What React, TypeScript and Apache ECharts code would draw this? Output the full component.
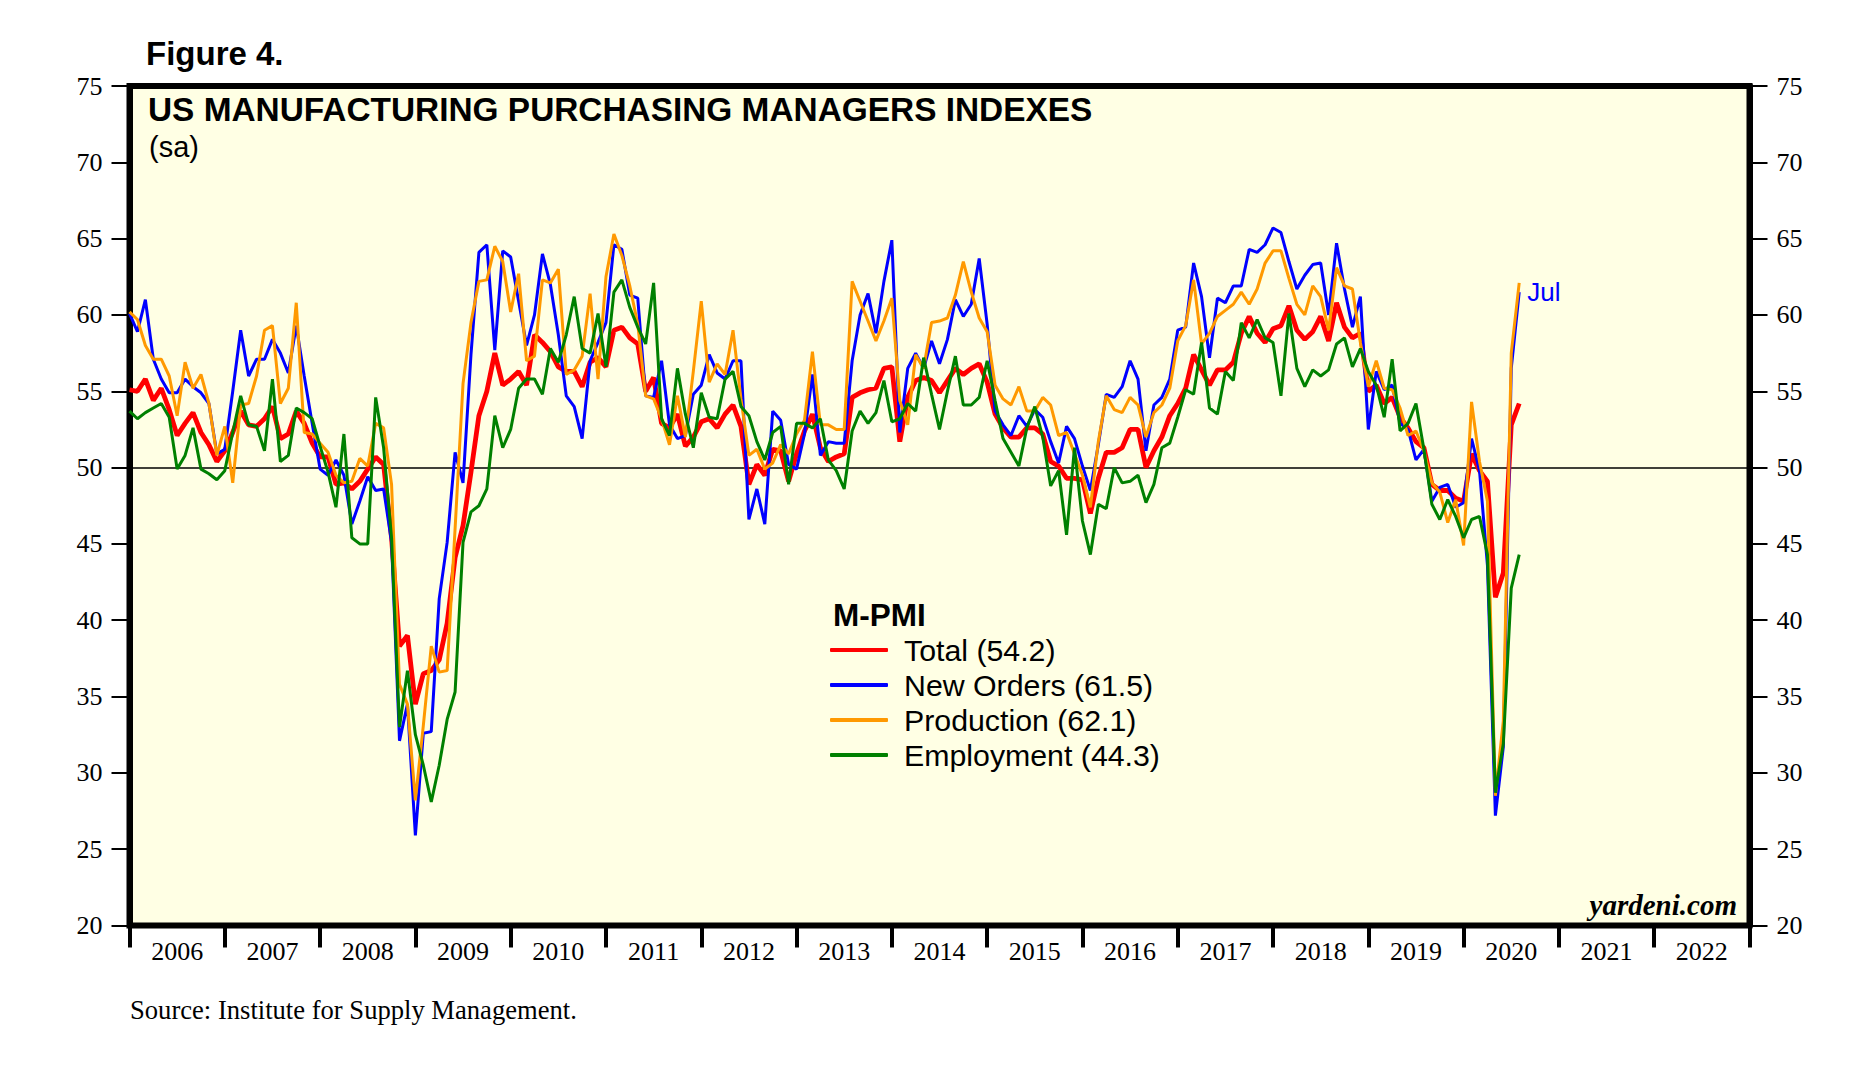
import React, { useEffect, useRef } from 'react';
import * as echarts from 'echarts';

// monthly readings, first point = Dec 2005 (plotted at the 2006 tick), last = Jul 2020
const years = ['2006', '2007', '2008', '2009', '2010', '2011', '2012', '2013', '2014',
  '2015', '2016', '2017', '2018', '2019', '2020', '2021', '2022'];

const total = [
  55.1, 55.0, 55.8, 54.4, 55.2, 53.8, 52.1, 52.9, 53.6, 52.3, 51.5, 50.4,
  51.1, 52.3, 53.7, 52.8, 52.7, 53.2, 54.0, 51.9, 52.2, 53.7, 52.9, 51.6,
  50.7, 50.7, 48.9, 49.0, 48.6, 49.1, 49.9, 50.7, 50.2, 45.4, 38.3, 39.0,
  34.5, 36.5, 36.7, 37.4, 39.8, 44.1, 46.2, 49.7, 53.4, 55.0, 57.5, 55.4,
  55.8, 56.3, 55.4, 58.7, 58.2, 57.6, 56.6, 56.3, 56.3, 55.3, 56.9, 57.2,
  56.6, 59.0, 59.2, 58.5, 58.1, 55.0, 55.9, 52.9, 52.6, 53.5, 51.4, 52.0,
  53.0, 53.2, 52.6, 53.5, 54.1, 52.7, 48.9, 50.2, 49.5, 51.2, 51.1, 49.1,
  50.9, 52.4, 53.5, 51.3, 50.4, 50.7, 50.9, 54.6, 54.9, 55.1, 55.2, 56.5,
  56.6, 51.7, 54.6, 55.7, 55.9, 55.7, 54.9, 55.7, 56.5, 56.1, 56.5, 56.8,
  55.6, 53.5, 52.6, 52.0, 52.0, 52.6, 52.6, 52.2, 50.4, 50.1, 49.3, 49.3,
  49.2, 47.0, 49.3, 51.0, 51.0, 51.3, 52.5, 52.5, 50.0, 51.1, 52.0, 53.4,
  54.2, 55.2, 57.4, 56.4, 55.4, 56.4, 56.4, 56.9, 58.8, 59.9, 58.8, 58.2,
  59.1, 59.3, 60.6, 59.0, 58.4, 58.9, 59.9, 58.3, 60.8, 59.2, 58.5, 58.8,
  55.0, 55.4, 54.2, 54.6, 53.3, 52.6, 51.7, 51.3, 48.9, 48.5, 48.5, 48.0,
  47.8, 50.9, 49.8, 49.1, 41.5, 43.1, 52.8, 54.2,
];

const newOrders = [
  60.1, 58.9, 61.0, 57.1, 55.8, 54.9, 54.9, 55.8, 55.3, 54.9, 54.2, 50.9,
  51.2, 55.0, 59.0, 56.0, 57.1, 57.1, 58.4, 57.5, 56.2, 59.3, 56.0, 52.9,
  49.9, 49.5, 50.5, 49.5, 46.3, 47.8, 49.4, 48.5, 48.6, 45.1, 32.1, 34.5,
  25.9, 32.6, 32.7, 41.4, 45.1, 51.0, 49.0, 57.4, 64.1, 64.6, 57.7, 64.2,
  63.8, 60.9, 58.0, 60.0, 64.0, 62.0, 58.7, 54.7, 54.0, 51.9, 57.0, 58.2,
  59.5, 64.6, 64.3, 61.3, 61.1, 54.7, 54.6, 57.0, 52.8, 51.9, 52.1, 54.8,
  55.4, 57.4, 56.2, 55.8, 57.0, 57.0, 46.6, 48.6, 46.3, 53.7, 53.1, 50.2,
  49.9, 52.2, 56.1, 50.8, 51.7, 51.6, 51.6, 57.0, 60.0, 61.4, 58.8, 62.2,
  64.9, 52.3, 56.5, 57.5, 56.5, 58.3, 56.8, 58.4, 61.0, 59.9, 60.7, 63.7,
  59.4, 53.7, 52.8, 52.1, 53.4, 52.7, 53.8, 53.3, 51.7, 50.3, 52.7, 51.9,
  50.1, 48.5, 51.5, 54.8, 54.6, 55.3, 57.0, 55.8, 51.1, 54.1, 54.6, 55.8,
  59.0, 59.2, 63.4, 61.2, 57.2, 61.1, 60.8, 61.9, 61.9, 64.3, 64.1, 64.6,
  65.7, 65.4, 63.5, 61.7, 62.6, 63.3, 63.4, 60.0, 64.7, 61.7, 59.2, 61.2,
  52.5, 56.3, 55.1, 55.4, 52.9, 52.5, 50.5, 51.2, 47.8, 48.7, 48.9, 47.4,
  47.7, 51.9, 49.8, 43.6, 27.2, 31.7, 56.5, 61.5,
];

const production = [
  60.2, 59.7, 58.0, 57.1, 57.1, 56.0, 53.4, 56.9, 55.2, 56.1, 54.2, 50.8,
  52.7, 49.0, 54.1, 54.2, 56.0, 59.0, 59.3, 54.2, 55.2, 60.8, 52.3, 52.2,
  51.6, 51.0, 49.5, 49.0, 49.1, 50.6, 50.1, 52.9, 52.6, 48.9, 35.8, 34.5,
  28.2, 33.1, 38.3, 36.6, 36.7, 46.0, 55.5, 59.5, 62.2, 62.3, 64.5, 63.5,
  60.2, 62.7, 57.0, 57.3, 62.3, 62.1, 63.0, 56.1, 56.4, 57.3, 61.4, 55.8,
  62.5, 65.3, 63.9, 61.9, 59.4, 54.7, 54.5, 53.2, 51.5, 54.7, 52.0, 56.3,
  60.9, 55.6, 56.8, 56.1, 59.0, 54.5, 50.8, 51.2, 49.9, 50.3, 51.5, 50.9,
  52.2, 53.1, 57.6, 52.8, 52.8, 52.5, 52.5, 62.2, 60.9, 59.6, 58.3, 59.6,
  61.1, 54.4, 52.8, 57.4, 56.5, 59.5, 59.6, 59.8, 61.3, 63.5, 61.5, 59.8,
  58.9, 55.4, 54.5, 54.1, 55.3, 53.7, 53.7, 54.6, 54.1, 52.1, 52.3, 50.9,
  49.5, 47.4, 51.7, 54.7, 53.8, 53.6, 54.6, 54.1, 52.0, 53.6, 54.1, 55.2,
  58.3, 59.3, 62.3, 58.1, 58.8, 59.9, 60.3, 60.7, 61.5, 60.7, 61.7, 63.4,
  64.2, 64.2, 62.4, 60.7, 60.0, 61.9, 61.2, 59.0, 63.1, 61.9, 61.7, 58.2,
  55.3, 57.0, 55.2, 55.1, 53.9, 52.1, 52.4, 51.1, 49.0, 48.4, 46.4, 47.9,
  44.9, 54.3, 50.4, 47.8, 28.5, 33.4, 57.5, 62.1,
];

const employment = [
  53.7, 53.2, 53.6, 53.9, 54.2, 53.3, 49.9, 50.8, 52.6, 49.9, 49.6, 49.2,
  49.8, 52.3, 54.7, 52.8, 52.7, 51.1, 55.8, 50.4, 50.8, 53.9, 53.6, 53.2,
  51.4, 49.7, 47.4, 52.2, 45.4, 45.0, 45.0, 54.6, 51.3, 45.4, 33.0, 36.7,
  32.5, 30.5, 28.1, 30.5, 33.5, 35.3, 45.1, 47.1, 47.5, 48.6, 53.4, 51.3,
  52.5, 55.2, 55.8, 55.8, 54.8, 57.8, 56.9, 58.7, 61.2, 57.8, 57.5, 60.1,
  56.6, 61.5, 62.3, 60.5, 59.2, 58.1, 62.1, 53.2, 52.1, 56.5, 53.5, 51.3,
  54.9, 53.3, 53.2, 55.8, 56.3, 54.0, 53.4, 51.7, 50.5, 52.3, 52.7, 48.9,
  52.9, 52.9, 52.6, 53.2, 50.5, 49.8, 48.6, 52.4, 53.7, 52.9, 53.6, 55.7,
  53.0, 53.2, 54.2, 53.7, 57.2, 54.8, 52.5, 55.0, 57.3, 54.1, 54.1, 54.6,
  57.0, 54.4, 51.9, 51.0, 50.1, 52.6, 54.0, 52.0, 48.8, 49.8, 45.6, 51.3,
  46.5, 44.3, 47.6, 47.3, 50.0, 49.0, 49.1, 49.5, 47.7, 48.9, 51.3, 51.6,
  53.3, 55.1, 54.8, 58.2, 53.9, 53.5, 56.3, 55.7, 59.5, 58.5, 59.7, 58.5,
  58.2, 54.7, 60.1, 56.5, 55.3, 56.4, 56.0, 56.4, 58.1, 58.5, 56.6, 57.8,
  56.3, 55.4, 53.3, 57.1, 52.4, 52.9, 54.2, 51.2, 47.6, 46.6, 47.9, 46.8,
  45.4, 46.6, 46.8, 44.3, 28.7, 31.9, 42.1, 44.3,
];

const seriesDefs = [
  { name: 'Total', data: total, color: '#FF0000', width: 4.8 },
  { name: 'New Orders', data: newOrders, color: '#0000FF', width: 3 },
  { name: 'Production', data: production, color: '#FF9900', width: 3 },
  { name: 'Employment', data: employment, color: '#008000', width: 3 },
];

const sans = '"Liberation Sans", Arial, sans-serif';
const serif = '"Liberation Serif", "Times New Roman", serif';

const App: React.FC = () => {
  const chartRef = useRef<HTMLDivElement>(null);

  useEffect(() => {
    if (!chartRef.current) return;
    const chart = echarts.init(chartRef.current, undefined, { renderer: 'svg' });

    const lastValue: Record<string, number> = {};
    seriesDefs.forEach(s => { lastValue[s.name] = s.data[s.data.length - 1]; });

    const yAxisBase = {
      type: 'value',
      min: 20,
      max: 75,
      interval: 5,
      splitLine: { show: false },
      axisLine: { show: true, lineStyle: { color: '#000', width: 6 } },
      axisTick: { show: true, inside: false, length: 18, lineStyle: { color: '#000', width: 2 } },
      axisLabel: { margin: 27, color: '#000', fontFamily: serif, fontSize: 26 },
    };

    const option = {
      animation: false,
      backgroundColor: '#ffffff',
      grid: {
        left: 129.5,
        right: 114.5,
        top: 86,
        bottom: 146.5,
        show: true,
        backgroundColor: '#FFFFE4',
        borderColor: '#000',
        borderWidth: 6,
      },
      xAxis: [
        {
          type: 'value',
          min: 0,
          max: 204,
          show: false,
        },
        {
          type: 'category',
          data: years,
          position: 'bottom',
          boundaryGap: true,
          axisLine: { show: false },
          axisTick: { show: true, interval: 0, length: 22, lineStyle: { color: '#000', width: 4 } },
          axisLabel: { interval: 0, margin: 13, color: '#000', fontFamily: serif, fontSize: 26 },
        },
      ],
      yAxis: [
        { ...yAxisBase, position: 'left' },
        { ...yAxisBase, position: 'right' },
      ],
      legend: {
        orient: 'vertical',
        left: 825,
        top: 630,
        icon: 'roundRect',
        itemWidth: 58,
        itemHeight: 4,
        itemGap: 5,
        selectedMode: false,
        data: seriesDefs.map(s => s.name),
        formatter: (name: string) => `${name} (${lastValue[name].toFixed(1)})`,
        textStyle: {
          color: '#000',
          fontFamily: sans,
          fontSize: 30.3,
          lineHeight: 29,
          padding: [0, 0, 0, 11],
        },
      },
      series: seriesDefs.map((s, idx) => ({
        name: s.name,
        type: 'line',
        xAxisIndex: 0,
        yAxisIndex: 0,
        symbol: 'none',
        data: s.data.map((v, i) => [i, v]),
        lineStyle: { color: s.color, width: s.width },
        itemStyle: { color: s.color },
        z: 3 + idx,
        endLabel: s.name === 'New Orders'
          ? { show: true, formatter: 'Jul', color: '#0000FF', fontFamily: sans, fontSize: 26, distance: 8 }
          : { show: false },
        markLine: idx === 0
          ? {
              silent: true,
              symbol: ['none', 'none'],
              label: { show: false },
              lineStyle: { color: '#000', width: 1.5, type: 'solid' },
              data: [{ yAxis: 50 }],
              z: 2,
            }
          : undefined,
      })),
      graphic: [
        {
          type: 'text', z: 100, x: 146, y: 53.5,
          style: { text: 'Figure 4.', font: `bold 33px ${sans}`, fill: '#000', textVerticalAlign: 'middle' },
        },
        {
          type: 'text', z: 100, x: 148, y: 109,
          style: { text: 'US MANUFACTURING PURCHASING MANAGERS INDEXES', font: `bold 33.4px ${sans}`, fill: '#000', textVerticalAlign: 'middle' },
        },
        {
          type: 'text', z: 100, x: 149, y: 147,
          style: { text: '(sa)', font: `29px ${sans}`, fill: '#000', textVerticalAlign: 'middle' },
        },
        {
          type: 'text', z: 100, x: 833, y: 615,
          style: { text: 'M-PMI', font: `bold 31.5px ${sans}`, fill: '#000', textVerticalAlign: 'middle' },
        },
        {
          type: 'text', z: 100, x: 1737, y: 905,
          style: { text: 'yardeni.com', font: `italic bold 29px ${serif}`, fill: '#000', textAlign: 'right', textVerticalAlign: 'middle' },
        },
        {
          type: 'text', z: 100, x: 130, y: 1010,
          style: { text: 'Source: Institute for Supply Management.', font: `26.6px ${serif}`, fill: '#000', textVerticalAlign: 'middle' },
        },
      ],
    };

    chart.setOption(option);

    return () => {
      chart.dispose();
    };
  }, []);

  return (
    <div
      ref={chartRef}
      style={{ position: 'fixed', left: 0, top: 0, width: 1864, height: 1072, background: '#fff' }}
    />
  );
};

export default App;
